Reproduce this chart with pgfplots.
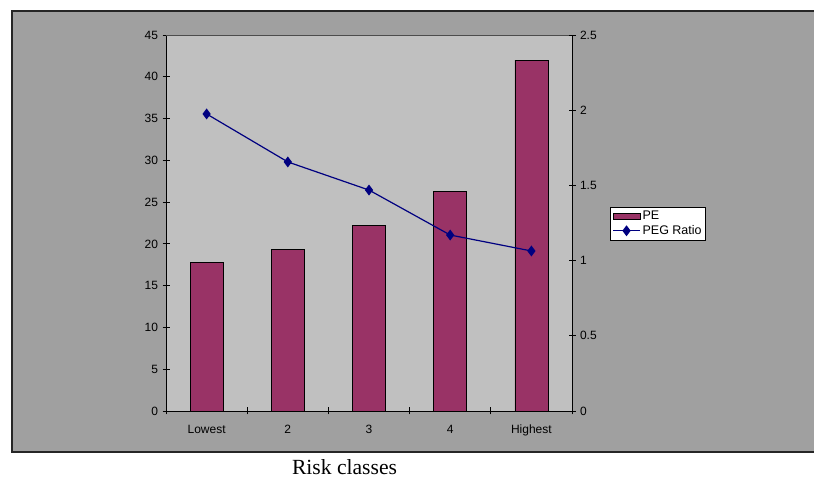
\documentclass[border=0pt]{standalone}
\usepackage{pgfplots}
\pgfplotsset{compat=1.18}
\usepackage{fontspec}
\setmainfont{Liberation Sans}
\newfontfamily\serifrm{Liberation Serif}
\definecolor{outergray}{HTML}{A0A0A0}
\definecolor{innergray}{HTML}{C0C0C0}
\definecolor{barcol}{HTML}{993366}
\definecolor{linecol}{HTML}{000080}
\pgfplotsset{
  mylineleg/.style={legend image code/.code={\draw[##1, mark repeat=2, mark phase=2] plot coordinates {(0pt,0pt) (13.5pt,0pt) (27pt,0pt)};}},
  mybarleg/.style={legend image code/.code={\draw[fill=barcol,draw=black,line width=0.8pt] (0pt,-3pt) rectangle (27pt,3pt);}},
}
\begin{document}
\begin{tikzpicture}
\useasboundingbox (0pt,0pt) rectangle (814pt,478pt);
\fill[white] (0pt,0pt) rectangle (814pt,478pt);
\filldraw[fill=outergray, draw=black!85, line width=1.2pt] (12pt,26pt) rectangle (822pt,467pt);
\pgfplotsset{
  every tick label/.append style={font=\fontsize{12}{14}\selectfont},
  /pgf/number format/assume math mode=true,
}
\begin{axis}[
  at={(166pt,67pt)}, anchor=south west,
  width=406pt, height=376pt, scale only axis,
  xmin=-0.5, xmax=4.5, ymin=0, ymax=45,
  ytick={0,5,...,45},
  axis background/.style={fill=innergray},
  axis y line*=left, axis x line*=bottom,
  axis line style={black, line width=0.9pt, -},
  xtick={0,...,4}, xticklabels={Lowest,2,3,4,Highest},
  minor xtick={-0.5,0.5,...,4.5},
  major x tick style={draw=none},
  tick align=center, major tick length=7pt, minor tick length=7pt,
  tick style={black, line width=0.9pt},
  xticklabel style={yshift=-7pt},
  yticklabel style={xshift=-1pt},
]
\addplot[ybar, bar width=33pt, fill=barcol, draw=black, line width=0.8pt] coordinates {
(0,17.8) (1,19.3) (2,22.2) (3,26.3) (4,42.0)};
\end{axis}
\draw[gray!60!black, line width=0.6pt] (166pt,443pt) -- (572pt,443pt);
\begin{axis}[
  at={(166pt,67pt)}, anchor=south west,
  width=406pt, height=376pt, scale only axis,
  xmin=-0.5, xmax=4.5, ymin=0, ymax=2.5,
  ytick={0,0.5,...,2.5},
  yticklabels={0,0.5,1,1.5,2,2.5},
  axis y line*=right, axis x line=none,
  axis line style={black, line width=0.9pt, -},
  tick align=center, major tick length=7pt,
  tick style={black, line width=0.9pt},
  yticklabel style={xshift=1pt},
  legend style={at={(1.0936,0.5426)}, anchor=north west, draw=black, fill=white,
    line width=0.8pt,
    font=\fontsize{12.5}{14}\selectfont, inner xsep=2pt, inner ysep=2pt, row sep=0pt,
    cells={anchor=west}},
]
\addlegendimage{mybarleg}
\addlegendentry{PE}
\addplot[color=linecol, line width=1.2pt, mark=diamond*, mark size=4.5pt,
  mark options={fill=linecol}, mylineleg]
 coordinates {(0,1.975) (1,1.656) (2,1.469) (3,1.170) (4,1.064)};
\addlegendentry{PEG Ratio}
\end{axis}
\node[anchor=base, inner sep=0pt, font=\serifrm\fontsize{21.6}{24}\selectfont] at (344.5pt,3pt) {Risk classes};
\end{tikzpicture}
\end{document}
